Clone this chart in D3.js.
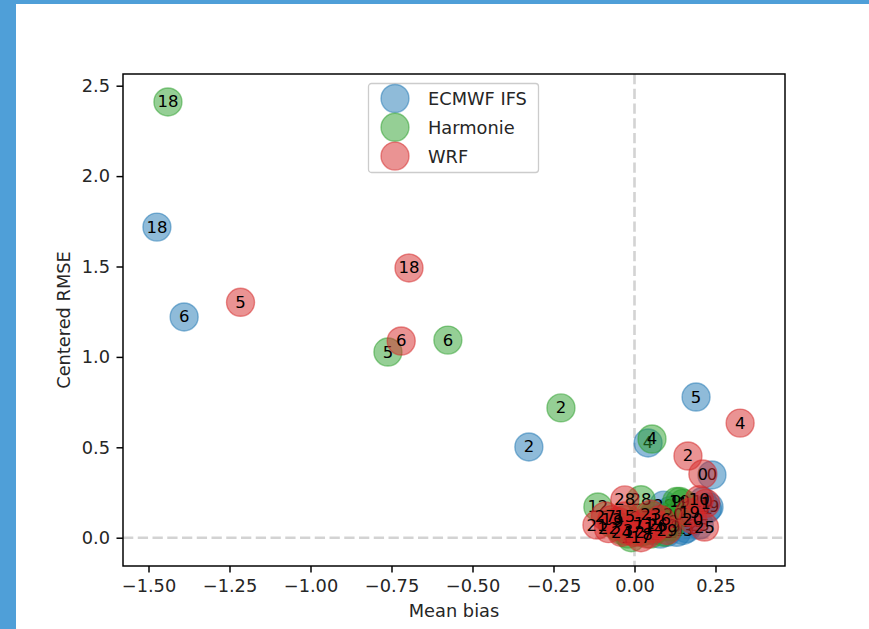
<!DOCTYPE html>
<html>
<head>
<meta charset="utf-8">
<script src="https://cdn.jsdelivr.net/npm/d3@7"></script>
<style>
  html, body { margin: 0; padding: 0; background: #fff; }
  svg { display: block; font-family: "DejaVu Sans", sans-serif; }
</style>
</head>
<body>
<svg id="chart" width="869" height="629"></svg>
<script>
// Model names and colours
const models = ["ECMWF IFS", "Harmonie", "WRF"];
const colors = ["#1f77b4", "#2ca02c", "#d62728"];

// Point labels (day index) shared by all models
const labels = d3.range(30);

// Mean bias per day, per model
const biasECMWF = [0.239, 0.225, -0.326, 0.10, 0.042, 0.190, -1.390, 0.13, 0.07, 0.11,
                   0.21, 0.16, 0.06, 0.09, 0.12, 0.05, 0.14, 0.08, -1.474, 0.23,
                   0.18, 0.03, 0.10, 0.15, 0.07, 0.20, 0.04, 0.11, 0.09, 0.06];
const biasHarmonie = [0.01, 0.15, -0.227, -0.02, 0.054, -0.761, -0.576, 0.03, 0.06, 0.13,
                      -0.05, 0.02, -0.113, 0.08, -0.03, 0.04, 0.10, -0.01, -1.440, 0.14,
                      0.12, -0.07, 0.05, 0.00, 0.07, 0.09, -0.04, 0.02, 0.02, 0.11];
const biasWRF = [0.211, 0.22, 0.165, -0.02, 0.326, -1.216, -0.720, 0.01, 0.04, -0.05,
                 0.20, 0.03, 0.00, -0.07, 0.06, -0.03, 0.08, 0.02, -0.696, 0.17,
                 0.18, -0.116, -0.08, 0.05, -0.04, 0.216, 0.07, -0.09, -0.03, 0.10];

// Centered RMSE per day, per model
const rmseECMWF = [0.347, 0.16, 0.502, 0.06, 0.524, 0.778, 1.221, 0.03, 0.10, 0.15,
                   0.20, 0.05, 0.04, 0.12, 0.08, 0.07, 0.11, 0.02, 1.718, 0.17,
                   0.09, 0.05, 0.03, 0.04, 0.06, 0.07, 0.09, 0.10, 0.18, 0.13];
const rmseHarmonie = [0.05, 0.19, 0.718, 0.02, 0.546, 1.027, 1.093, 0.08, 0.12, 0.20,
                      0.06, 0.03, 0.17, 0.07, 0.10, 0.04, 0.09, 0.00, 2.41, 0.20,
                      0.13, 0.08, 0.02, 0.06, 0.05, 0.03, 0.04, 0.11, 0.21, 0.06];
const rmseWRF = [0.352, 0.19, 0.452, 0.04, 0.634, 1.302, 1.088, 0.06, 0.02, 0.09,
                 0.21, 0.08, 0.03, 0.10, 0.05, 0.12, 0.10, 0.00, 1.492, 0.14,
                 0.10, 0.07, 0.05, 0.13, 0.03, 0.059, 0.07, 0.12, 0.209, 0.04];

// Axis ticks
const xTicks = [-1.5, -1.25, -1.0, -0.75, -0.5, -0.25, 0.0, 0.25];
const yTicks = [0.0, 0.5, 1.0, 1.5, 2.0, 2.5];

const biasSeries = [biasECMWF, biasHarmonie, biasWRF];
const rmseSeries = [rmseECMWF, rmseHarmonie, rmseWRF];

const svg = d3.select("#chart");
const W = 869, H = 629;
const FS = "17.8px";      // axis / legend text size
const LFS = "16.5px";     // point label size
const LW = 1.48;          // axis line width

// Page frame
svg.append("rect").attr("x", 0).attr("y", 0).attr("width", W).attr("height", H).attr("fill", "#fff");
svg.append("rect").attr("x", 0).attr("y", 0).attr("width", W).attr("height", 4).attr("fill", "#4f9fd8");
svg.append("rect").attr("x", 0).attr("y", 0).attr("width", 16).attr("height", H).attr("fill", "#4f9fd8");

// Plot area
const pL = 123, pR = 785, pT = 74, pB = 566;

const x = d3.scaleLinear().domain([-1.5787, 0.4645]).range([pL, pR]);
const y = d3.scaleLinear().domain([-0.1565, 2.5647]).range([pB, pT]);

const plot = svg.append("g");

// Reference lines through zero
const dash = { color: "#d3d3d3", width: 2.6, pattern: "10.3,4.45" };
plot.append("line")
  .attr("x1", x(0)).attr("x2", x(0)).attr("y1", pT).attr("y2", pB)
  .attr("stroke", dash.color).attr("stroke-width", dash.width).attr("stroke-dasharray", dash.pattern);
plot.append("line")
  .attr("x1", pL).attr("x2", pR).attr("y1", y(0)).attr("y2", y(0))
  .attr("stroke", dash.color).attr("stroke-width", dash.width).attr("stroke-dasharray", dash.pattern);

// Scatter points with day labels, one model at a time
const R = 14;
models.forEach((m, i) => {
  const pts = labels.map((lab, j) => ({ lab, bx: biasSeries[i][j], ry: rmseSeries[i][j] }));
  const g = plot.append("g");
  g.selectAll("circle").data(pts).join("circle")
    .attr("cx", d => x(d.bx)).attr("cy", d => y(d.ry)).attr("r", R)
    .attr("fill", colors[i]).attr("fill-opacity", 0.5)
    .attr("stroke", colors[i]).attr("stroke-opacity", 0.5).attr("stroke-width", 1.4);
  g.selectAll("text").data(pts).join("text")
    .attr("x", d => x(d.bx)).attr("y", d => y(d.ry))
    .attr("text-anchor", "middle").attr("dominant-baseline", "central")
    .attr("font-size", LFS).attr("fill", "#000")
    .text(d => d.lab);
});

// Axes
const xAxis = d3.axisBottom(x).tickValues(xTicks).tickFormat(d3.format(".2f")).tickSize(6.5).tickPadding(6.5);
const yAxis = d3.axisLeft(y).tickValues(yTicks).tickFormat(d3.format(".1f")).tickSize(6.5).tickPadding(6.5);

const gx = svg.append("g").attr("transform", `translate(0,${pB})`).call(xAxis);
const gy = svg.append("g").attr("transform", `translate(${pL},0)`).call(yAxis);
[gx, gy].forEach(g => {
  g.select(".domain").remove();
  g.selectAll(".tick line").attr("stroke", "#000").attr("stroke-width", LW);
  g.selectAll(".tick text").attr("font-size", FS).attr("fill", "#262626")
    .attr("font-family", "DejaVu Sans, sans-serif");
});

// Axes frame
svg.append("rect").attr("x", pL).attr("y", pT)
  .attr("width", pR - pL).attr("height", pB - pT)
  .attr("fill", "none").attr("stroke", "#000").attr("stroke-width", LW);

// Axis titles
svg.append("text").attr("x", (pL + pR) / 2).attr("y", 617)
  .attr("text-anchor", "middle").attr("font-size", FS).attr("fill", "#262626")
  .text("Mean bias");
svg.append("text")
  .attr("transform", `translate(70,${(pT + pB) / 2}) rotate(-90)`)
  .attr("text-anchor", "middle").attr("font-size", FS).attr("fill", "#262626")
  .text("Centered RMSE");

// Legend
const lg = svg.append("g").attr("transform", "translate(368.5,83.5)");
lg.append("rect").attr("x", 0).attr("y", 0).attr("width", 170).attr("height", 89)
  .attr("rx", 3).attr("fill", "#fff").attr("fill-opacity", 0.8)
  .attr("stroke", "#cccccc").attr("stroke-width", 1.3);
models.forEach((m, i) => {
  const cy = 15 + i * 28.8;
  lg.append("circle").attr("cx", 26.5).attr("cy", cy).attr("r", R)
    .attr("fill", colors[i]).attr("fill-opacity", 0.5)
    .attr("stroke", colors[i]).attr("stroke-opacity", 0.5).attr("stroke-width", 1.4);
  lg.append("text").attr("x", 59.5).attr("y", cy).attr("dominant-baseline", "central")
    .attr("font-size", FS).attr("fill", "#262626").text(m);
});
</script>
</body>
</html>
